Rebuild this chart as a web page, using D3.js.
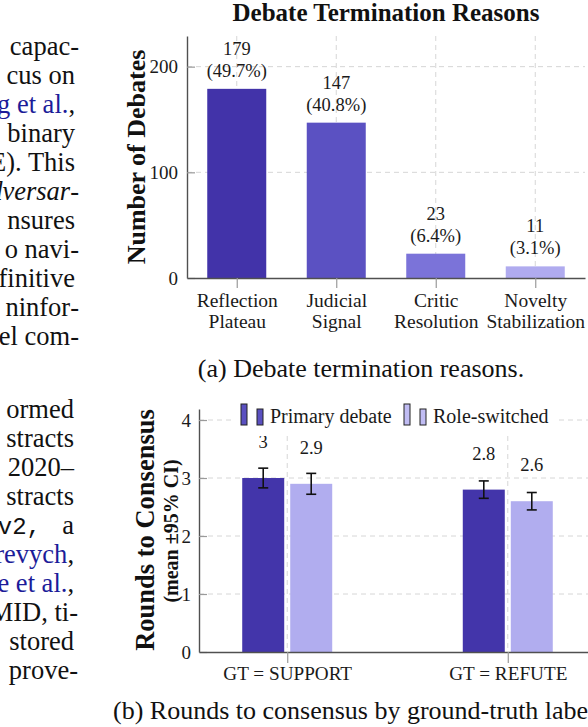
<!DOCTYPE html>
<html>
<head>
<meta charset="utf-8">
<script src="https://cdn.jsdelivr.net/npm/d3@7"></script>
<style>
  html, body { margin: 0; padding: 0; background: #fff; }
  svg { display: block; }
</style>
</head>
<body>
<script>
// ---------------- DATA ----------------
const termCategories = ["Reflection Plateau", "Judicial Signal", "Critic Resolution", "Novelty Stabilization"];
const termCounts = [179, 147, 23, 11];
const termPercents = ["49.7%", "40.8%", "6.4%", "3.1%"];
const termYTicks = [0, 100, 200];

const gtGroups = ["GT = SUPPORT", "GT = REFUTE"];
const seriesNames = ["Primary debate", "Role-switched"];
const primaryMeans = [3.0, 2.8];
const primaryCI = [0.17, 0.15];
const roleMeans = [2.9, 2.6];
const roleCI = [0.18, 0.15];
const roundYTicks = [0, 1, 2, 3, 4];

const titleTop = "Debate Termination Reasons";
const yLabelTop = "Number of Debates";
const yLabelBottom = "Rounds to Consensus";
const yLabelBottom2 = "(mean \u00B195% CI)";
const captionA = "(a) Debate termination reasons.";
const captionB = "(b) Rounds to consensus by ground-truth label.";

// left column (clipped paper text); h = line ends with a hyphen
const bodyTop = [
  {p: [{t: "capac"}], h: true}, {p: [{t: "cus on"}]}, {p: [{t: "g et al.", c: "link"}, {t: ","}]},
  {p: [{t: "binary"}]}, {p: [{t: "E). This"}]}, {p: [{t: "dversar", i: true}], h: true, hi: true},
  {p: [{t: "nsures"}]}, {p: [{t: "o navi"}], h: true}, {p: [{t: "finitive"}]},
  {p: [{t: "ninfor"}], h: true}, {p: [{t: "el com"}], h: true}
];
const bodyBottom = [
  {p: [{t: "ormed"}]}, {p: [{t: "stracts"}]}, {p: [{t: ", 2020\u2013"}]}, {p: [{t: "stracts"}]},
  null, {p: [{t: "revych", c: "link"}, {t: ","}]}, {p: [{t: "e et al.", c: "link"}, {t: ","}]},
  {p: [{t: "MID, ti"}], h: true}, {p: [{t: "stored"}]}, {p: [{t: "prove"}], h: true}
];

// ---------------- STYLE ----------------
const SERIF = "'Liberation Serif', 'Times New Roman', serif";
const MONO = "'Liberation Mono', 'DejaVu Sans Mono', monospace";
const termColors = ["#4233a9", "#5b51c2", "#7b73d9", "#b0abef"];
const seriesColors = ["#4335aa", "#b1adef"];
const legendColors = ["#5a50c0", "#c0bcf3"];
const gridColor = "#d6d6d6";
const axisColor = "#505050";
const tickColor = "#9a9a9a";
const textColor = "#1a1a1a";
const linkColor = "#1c1c99";
const BODY_FS = 26.5;

const svg = d3.select("body").append("svg")
  .attr("width", 588).attr("height", 727)
  .attr("font-family", SERIF);
svg.append("rect").attr("width", 588).attr("height", 727).attr("fill", "#fff");

// ---------------- BODY TEXT ----------------
function bodyLine(line, xRight, y) {
  let x = xRight;
  if (line.h) {
    const hy = svg.append("text").attr("x", xRight).attr("y", y).attr("text-anchor", "end")
      .attr("font-size", BODY_FS).attr("fill", "#111").text("-");
    if (line.hi) hy.attr("font-style", "italic");
    x = xRight - hy.node().getComputedTextLength();
  }
  const t = svg.append("text").attr("x", x).attr("y", y)
    .attr("text-anchor", "end").attr("font-size", BODY_FS).attr("fill", "#111");
  line.p.forEach(p => {
    const s = t.append("tspan").text(p.t);
    if (p.c === "link") s.attr("fill", linkColor);
    if (p.i) s.attr("font-style", "italic");
  });
}
bodyTop.forEach((line, i) => bodyLine(line, line.h ? 79 : 75, 55 + 29 * i));
bodyBottom.forEach((line, i) => {
  const y = 418 + 29 * i;
  if (line === null) {
    svg.append("text").attr("x", 41).attr("y", y).attr("text-anchor", "end")
      .attr("font-size", 24).attr("font-family", MONO).attr("fill", "#111").text("\u2013v2,");
    bodyLine({p: [{t: "a"}]}, 74, y);
    return;
  }
  bodyLine(line, line.h ? 78 : 74, y);
});

function styleAxis(a, fs) {
  a.attr("font-family", SERIF).attr("font-size", fs);
  a.select(".domain").attr("stroke", axisColor).attr("stroke-width", 1.4);
  a.selectAll(".tick line").attr("stroke", tickColor).attr("stroke-width", 1.2);
  a.selectAll(".tick text").attr("font-family", SERIF).attr("font-size", fs).attr("fill", textColor);
}

// ---------------- TOP CHART ----------------
const xT = d3.scalePoint().domain(termCategories).range([187, 585]).padding(0.5);
const yT = d3.scaleLinear().domain([0, 229]).range([278, 36]);
const barWT = 59;

const gT = svg.append("g");
gT.append("g").selectAll("line").data(termYTicks.filter(d => d > 0)).join("line")
  .attr("x1", 187).attr("x2", 585).attr("y1", d => yT(d)).attr("y2", d => yT(d))
  .attr("stroke", gridColor).attr("stroke-width", 1).attr("stroke-dasharray", "5,4");
gT.append("g").selectAll("line").data(termCategories).join("line")
  .attr("x1", d => xT(d)).attr("x2", d => xT(d)).attr("y1", yT.range()[1]).attr("y2", yT(0))
  .attr("stroke", gridColor).attr("stroke-width", 1).attr("stroke-dasharray", "5,4");

gT.append("g").selectAll("rect").data(termCategories).join("rect")
  .attr("x", d => xT(d) - barWT / 2).attr("width", barWT)
  .attr("y", (d, i) => yT(termCounts[i])).attr("height", (d, i) => yT(0) - yT(termCounts[i]))
  .attr("fill", (d, i) => termColors[i]);

const vl = gT.append("g").attr("font-size", 18.5).attr("fill", textColor).attr("text-anchor", "middle");
termCategories.forEach((c, i) => {
  vl.append("text").attr("x", xT(c)).attr("y", yT(termCounts[i]) - 34).text(termCounts[i]);
  vl.append("text").attr("x", xT(c)).attr("y", yT(termCounts[i]) - 12).text("(" + termPercents[i] + ")");
});

const yAxT = gT.append("g").attr("transform", "translate(187,0)")
  .call(d3.axisLeft(yT).tickValues(termYTicks).tickFormat(d3.format("d"))
    .tickSizeInner(-8).tickSizeOuter(0).tickPadding(9));
const xAxT = gT.append("g").attr("transform", `translate(0,${yT(0)})`)
  .call(d3.axisBottom(xT).tickSizeInner(10).tickSizeOuter(0).tickFormat(""));
styleAxis(yAxT, 19);
styleAxis(xAxT, 19.5);
xAxT.selectAll(".tick").each(function(d) {
  const words = d.split(" ");
  const t = d3.select(this).append("text").attr("text-anchor", "middle")
    .attr("font-family", SERIF).attr("font-size", 19.5).attr("fill", textColor);
  words.forEach((w, k) => t.append("tspan").attr("x", 0).attr("y", 29 + 21 * k).text(w));
});

svg.append("text").attr("x", 386).attr("y", 21).attr("text-anchor", "middle")
  .attr("font-size", 25).attr("font-weight", "bold").attr("fill", "#111").text(titleTop);
svg.append("text").attr("transform", "translate(145,157) rotate(-90)").attr("text-anchor", "middle")
  .attr("font-size", 26).attr("font-weight", "bold").attr("fill", "#111").text(yLabelTop);

svg.append("text").attr("x", 361).attr("y", 377).attr("text-anchor", "middle")
  .attr("font-size", 26).attr("fill", "#111").text(captionA);

// ---------------- BOTTOM CHART ----------------
const xB = d3.scalePoint().domain(gtGroups).range([199, 596]).padding(0.4);
const xS = d3.scaleBand().domain(seriesNames).range([-45, 45]).paddingInner(0.125);
const yB = d3.scaleLinear().domain([0, 4.19]).range([652, 409]);

const rows = [];
gtGroups.forEach((g, gi) => {
  rows.push({g, s: seriesNames[0], v: primaryMeans[gi], ci: primaryCI[gi], k: 0});
  rows.push({g, s: seriesNames[1], v: roleMeans[gi], ci: roleCI[gi], k: 1});
});

const gB = svg.append("g");
gB.append("g").selectAll("line").data(roundYTicks.filter(d => d > 0)).join("line")
  .attr("x1", 199).attr("x2", 596).attr("y1", d => yB(d)).attr("y2", d => yB(d))
  .attr("stroke", gridColor).attr("stroke-width", 1).attr("stroke-dasharray", "5,4");
gB.append("g").selectAll("line").data(gtGroups).join("line")
  .attr("x1", d => xB(d)).attr("x2", d => xB(d)).attr("y1", yB.range()[1]).attr("y2", yB(0))
  .attr("stroke", gridColor).attr("stroke-width", 1).attr("stroke-dasharray", "5,4");

gB.append("g").selectAll("rect").data(rows).join("rect")
  .attr("x", d => xB(d.g) + xS(d.s)).attr("width", xS.bandwidth())
  .attr("y", d => yB(d.v)).attr("height", d => yB(0) - yB(d.v))
  .attr("fill", d => seriesColors[d.k]);

const eb = gB.append("g").attr("stroke", "#111").attr("stroke-width", 1.6);
rows.forEach(d => {
  const cx = xB(d.g) + xS(d.s) + xS.bandwidth() / 2;
  eb.append("line").attr("x1", cx).attr("x2", cx).attr("y1", yB(d.v + d.ci)).attr("y2", yB(d.v - d.ci));
  eb.append("line").attr("x1", cx - 5).attr("x2", cx + 5).attr("y1", yB(d.v + d.ci)).attr("y2", yB(d.v + d.ci));
  eb.append("line").attr("x1", cx - 5).attr("x2", cx + 5).attr("y1", yB(d.v - d.ci)).attr("y2", yB(d.v - d.ci));
});

gB.append("g").attr("font-size", 18.5).attr("fill", textColor).attr("text-anchor", "middle")
  .selectAll("text").data(rows).join("text")
  .attr("x", d => xB(d.g) + xS(d.s) + xS.bandwidth() / 2)
  .attr("y", d => yB(d.v) - 30)
  .text(d => String(d.v));

const yAxB = gB.append("g").attr("transform", "translate(199,0)")
  .call(d3.axisLeft(yB).tickValues(roundYTicks).tickFormat(d3.format("d"))
    .tickSizeInner(-8).tickSizeOuter(0).tickPadding(8));
const xAxB = gB.append("g").attr("transform", `translate(0,${yB(0)})`)
  .call(d3.axisBottom(xB).tickSizeInner(11).tickSizeOuter(0).tickPadding(5));
styleAxis(yAxB, 19);
styleAxis(xAxB, 19.2);
xAxB.selectAll(".tick text").attr("dy", null).attr("y", 28);

// legend
const lg = svg.append("g");
lg.append("rect").attr("x", 234).attr("y", 398).attr("width", 323).attr("height", 38).attr("fill", "#fff");
const legendX = [241, 404];
seriesNames.forEach((s, k) => {
  const x0 = legendX[k];
  lg.append("rect").attr("x", x0).attr("y", 404).attr("width", 6).attr("height", 21)
    .attr("fill", legendColors[k]).attr("stroke", "#222").attr("stroke-width", 1);
  lg.append("rect").attr("x", x0 + 16).attr("y", 409).attr("width", 6).attr("height", 16)
    .attr("fill", legendColors[k]).attr("stroke", "#222").attr("stroke-width", 1);
  lg.append("text").attr("x", x0 + 29).attr("y", 423).attr("font-size", 20).attr("fill", textColor).text(s);
});

svg.append("text").attr("transform", "translate(154,530) rotate(-90)").attr("text-anchor", "middle")
  .attr("font-size", 26.5).attr("font-weight", "bold").attr("fill", "#111").text(yLabelBottom);
svg.append("text").attr("transform", "translate(178,531) rotate(-90)").attr("text-anchor", "middle")
  .attr("font-size", 20).attr("font-weight", "bold").attr("fill", "#111").text(yLabelBottom2);

svg.append("text").attr("x", 113).attr("y", 719)
  .attr("font-size", 26).attr("fill", "#111").text(captionB);
</script>
</body>
</html>
